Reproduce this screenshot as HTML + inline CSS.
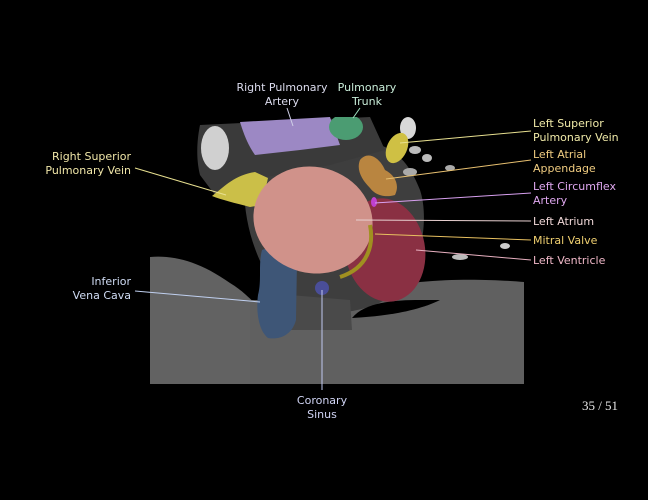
<!DOCTYPE html>
<html><head><style>
html,body{margin:0;padding:0;background:#000;}
svg{display:block}
text{font-family:"DejaVu Sans","Liberation Sans",sans-serif;font-size:11px}
</style></head><body>
<svg width="648" height="500" viewBox="0 0 648 500" xmlns="http://www.w3.org/2000/svg">
<rect width="648" height="500" fill="#000"/>
<defs><clipPath id="c"><rect x="150" y="117" width="374" height="267"/></clipPath></defs>
<g clip-path="url(#c)">
<path d="M150,257 C175,255 200,262 230,283 C245,292 250,300 258,305 L258,384 L150,384Z" fill="#626262"/>
<path d="M350,300 C380,295 400,285 420,282 C460,278 500,280 524,282 L524,384 L250,384 L250,300Z" fill="#606060"/>
<path d="M245,175 C245,150 290,140 350,140 C395,140 410,165 420,190 C430,220 420,270 400,290 C370,315 320,320 290,300 C260,280 240,220 245,175Z" fill="#3e3e3e"/>
<path d="M290,295 L350,300 L352,330 L290,330Z" fill="#4a4a4a"/>
<path d="M352,318 C365,302 395,300 420,300 L440,300 C420,310 390,316 352,318Z" fill="#000"/>
<path d="M200,125 L370,117 L385,150 L330,165 L250,180 L215,195 L200,175 C195,155 198,135 200,125Z" fill="#3a3a3a"/>
<ellipse cx="215" cy="148" rx="14" ry="22" fill="#d0d0d0"/>
<ellipse cx="408" cy="128" rx="8" ry="11" fill="#d8d8d8"/>
<ellipse cx="415" cy="150" rx="6" ry="4" fill="#bbb"/>
<ellipse cx="427" cy="158" rx="5" ry="4" fill="#bbb"/>
<ellipse cx="410" cy="172" rx="7" ry="4" fill="#aaa"/>
<ellipse cx="450" cy="168" rx="5" ry="3" fill="#aaa"/>
<ellipse cx="460" cy="257" rx="8" ry="3" fill="#bbb"/>
<ellipse cx="505" cy="246" rx="5" ry="3" fill="#ccc"/>
<path d="M240,122 L330,117 L340,145 L300,150 L255,155 C248,145 244,135 240,122Z" fill="#9c88c4"/>
<ellipse cx="346" cy="127" rx="17" ry="13" fill="#4b9c72"/>
<ellipse cx="397" cy="148" rx="10" ry="16" transform="rotate(25 397 148)" fill="#cfc044"/>
<path d="M360,160 C368,150 380,158 385,170 C395,175 400,185 395,195 C385,198 375,195 370,188 C362,180 356,170 360,160Z" fill="#b98540"/>
<path d="M212,196 C225,186 235,175 255,172 L268,178 L262,205 L250,207 C235,203 222,200 212,196Z" fill="#cbbf48"/>
<ellipse cx="385" cy="250" rx="40" ry="52" transform="rotate(-10 385 250)" fill="#8a3043"/>
<path d="M262,250 C275,245 290,248 297,260 L296,320 C292,335 280,340 268,338 C258,330 256,310 258,295 C262,280 258,265 262,250Z" fill="#3e5677"/>
<ellipse cx="313" cy="220" rx="60" ry="53" transform="rotate(15 313 220)" fill="#d0928a"/>
<path d="M370,225 C374,245 368,268 340,277" stroke="#a09020" stroke-width="4" fill="none"/>
<circle cx="322" cy="288" r="7" fill="#4a4e98"/>
<ellipse cx="374" cy="202" rx="3" ry="5" fill="#c040d0"/>
</g>
<g stroke-width="1">
<line x1="287" y1="108" x2="293" y2="126" stroke="#d0d0e8"/>
<line x1="360" y1="108" x2="353" y2="118" stroke="#a0e0c0"/>
<line x1="531" y1="131" x2="400" y2="143" stroke="#e8e090"/>
<line x1="531" y1="160" x2="386" y2="179" stroke="#e8c070"/>
<line x1="531" y1="193" x2="375" y2="203" stroke="#d8a0f0"/>
<line x1="531" y1="221" x2="356" y2="220" stroke="#e8d0d0"/>
<line x1="531" y1="240" x2="375" y2="234" stroke="#e8c060"/>
<line x1="531" y1="260" x2="416" y2="250" stroke="#e8b0c0"/>
<line x1="135" y1="168" x2="226" y2="195" stroke="#e8e090"/>
<line x1="135" y1="291" x2="260" y2="302" stroke="#c0d0f0"/>
<line x1="322" y1="290" x2="322" y2="390" stroke="#c0c8f0"/>
</g>
<g>
<text x="282" y="91" text-anchor="middle" fill="#dcdcee">Right Pulmonary</text>
<text x="282" y="105" text-anchor="middle" fill="#dcdcee">Artery</text>
<text x="367" y="91" text-anchor="middle" fill="#c8ecd8">Pulmonary</text>
<text x="367" y="105" text-anchor="middle" fill="#c8ecd8">Trunk</text>
<text x="533" y="127" fill="#f0eaa8">Left Superior</text>
<text x="533" y="141" fill="#f0eaa8">Pulmonary Vein</text>
<text x="533" y="158" fill="#f0cc80">Left Atrial</text>
<text x="533" y="172" fill="#f0cc80">Appendage</text>
<text x="533" y="190" fill="#e0a8f0">Left Circumflex</text>
<text x="533" y="204" fill="#e0a8f0">Artery</text>
<text x="533" y="225" fill="#f0d8d8">Left Atrium</text>
<text x="533" y="244" fill="#f0d070">Mitral Valve</text>
<text x="533" y="264" fill="#f0b8c8">Left Ventricle</text>
<text x="131" y="160" text-anchor="end" fill="#f0e6a8">Right Superior</text>
<text x="131" y="174" text-anchor="end" fill="#f0e6a8">Pulmonary Vein</text>
<text x="131" y="285" text-anchor="end" fill="#d0dcf4">Inferior</text>
<text x="131" y="299" text-anchor="end" fill="#d0dcf4">Vena Cava</text>
<text x="322" y="404" text-anchor="middle" fill="#d0d4f4">Coronary</text>
<text x="322" y="418" text-anchor="middle" fill="#d0d4f4">Sinus</text>
<text x="600" y="410" text-anchor="middle" fill="#e8e8e8" style="font-family:'Liberation Serif',serif;font-size:13px">35 / 51</text>
</g>
</svg>
</body></html>
